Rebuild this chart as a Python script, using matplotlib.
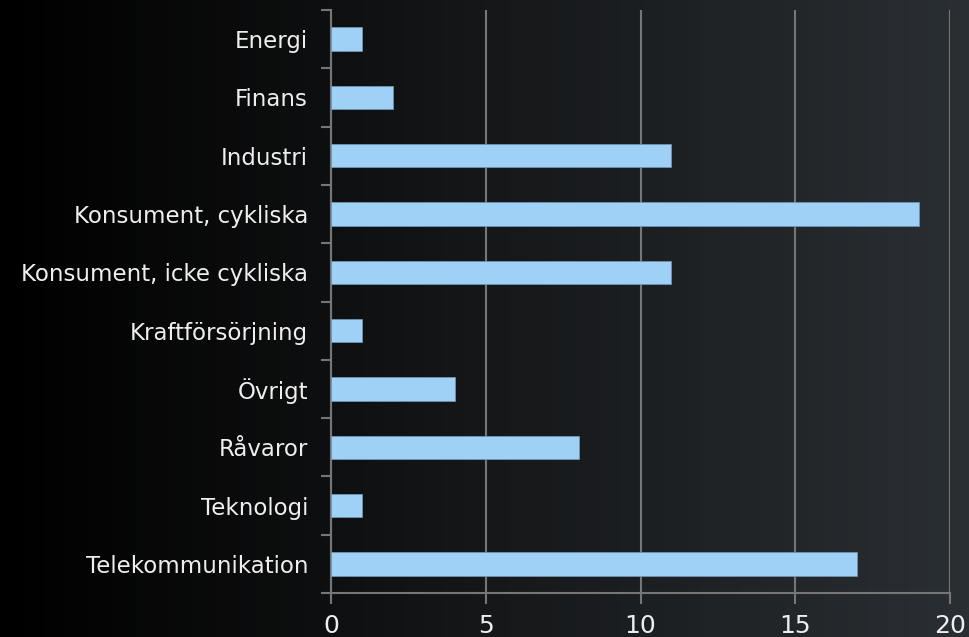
import matplotlib
matplotlib.use("Agg")
import matplotlib.pyplot as plt
import numpy as np
from matplotlib.colors import LinearSegmentedColormap

categories = ["Energi", "Finans", "Industri", "Konsument, cykliska",
              "Konsument, icke cykliska", "Kraftförsörjning", "Övrigt",
              "Råvaror", "Teknologi", "Telekommunikation"]
values = [1, 2, 11, 19, 11, 1, 4, 8, 1, 17]
xticks = [0, 5, 10, 15, 20]

fig = plt.figure(figsize=(9.7, 6.37), dpi=100)

# gradient background
bg = fig.add_axes([0, 0, 1, 1], zorder=-10)
grad = np.linspace(0, 1, 256)[None, :]
cmap = LinearSegmentedColormap.from_list("bg", ["#000000", "#0e0f10", "#1c1f22", "#2a2f33"])
bg.imshow(grad, aspect="auto", cmap=cmap, extent=[0, 1, 0, 1])
bg.axis("off")

ax = fig.add_axes([331/970, 1-593/637, (950-331)/970, (593-10)/637])
ax.patch.set_alpha(0)

y = np.arange(len(categories))
ax.barh(y, values, height=0.4, color="#9fd0f5", edgecolor="#6f93b0", linewidth=0.6, zorder=3)

ax.set_xlim(0, 20)
ax.set_ylim(len(categories) - 0.5, -0.5)
ax.set_xticks(xticks)
ax.set_xticklabels([str(t) for t in xticks])
ax.set_yticks(y)
ax.set_yticklabels(categories)
ax.set_yticks(np.arange(-0.5, len(categories)), minor=True)

ax.grid(axis="x", color="#767676", linewidth=1.5, zorder=0)
for s in ["top", "right"]:
    ax.spines[s].set_visible(False)
for s in ["left", "bottom"]:
    ax.spines[s].set_color("#767676")
    ax.spines[s].set_linewidth(1.5)

ax.tick_params(axis="y", which="major", length=0, pad=16.5, labelsize=16.5, labelcolor="#eeeeee")
ax.tick_params(axis="y", which="minor", length=7, width=1.5, color="#767676")
ax.tick_params(axis="x", which="major", length=8, width=1.5, color="#767676",
               labelsize=18, labelcolor="#eeeeee", pad=7)

fig.savefig("out.png", dpi=100)
